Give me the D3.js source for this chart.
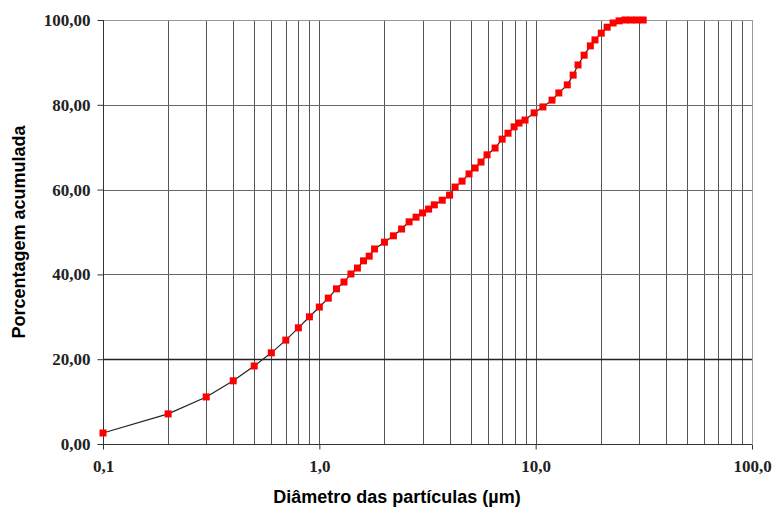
<!DOCTYPE html>
<html lang="pt">
<head>
<meta charset="UTF-8">
<title>Porcentagem acumulada</title>
<script src="https://cdn.jsdelivr.net/npm/d3@7"></script>
<style>
  body { margin: 0; background: #fff; }
  .tick-label { font-family: "Liberation Serif", "Times New Roman", serif; font-weight: bold; font-size: 17px; fill: #222; }
  .title { font-family: "Liberation Sans", Arial, sans-serif; font-weight: bold; font-size: 18px; fill: #000; }
</style>
</head>
<body>
<svg id="chart" width="777" height="509"></svg>
<script>
// particle diameter (um) and cumulative percentage
var diameters = [0.1, 0.2, 0.3, 0.4, 0.5, 0.6, 0.7, 0.8, 0.9, 1.0,
  1.1, 1.2, 1.3, 1.4, 1.5, 1.6, 1.7, 1.8, 2.0, 2.2,
  2.4, 2.6, 2.8, 3.0, 3.2, 3.4, 3.7, 4.0, 4.24, 4.57,
  4.92, 5.25, 5.59, 5.96, 6.49, 7.0, 7.45, 7.95, 8.38, 8.93,
  9.84, 10.8, 11.9, 12.8, 14.0, 14.9, 15.7, 16.75, 17.9, 18.8,
  20.1, 21.4, 22.8, 24.3, 25.9, 27.6, 29.4, 31.4];
var cumulative = [2.6, 7.1, 11.1, 14.9, 18.4, 21.5, 24.5, 27.4, 30.0, 32.3,
  34.4, 36.6, 38.2, 40.1, 41.5, 43.2, 44.3, 46.0, 47.6, 49.1,
  50.7, 52.4, 53.5, 54.5, 55.4, 56.4, 57.5, 58.7, 60.6, 62.0,
  63.7, 65.1, 66.5, 68.2, 69.8, 71.9, 73.3, 74.8, 75.7, 76.4,
  78.1, 79.5, 81.1, 82.8, 84.7, 87.0, 89.4, 91.7, 93.9, 95.3,
  96.9, 98.3, 99.3, 99.8, 100, 100, 100, 100];

var xTicks = [0.1, 1, 10, 100];
var xTickLabels = ["0,1", "1,0", "10,0", "100,0"];
var yTicks = [0, 20, 40, 60, 80, 100];
var yTickLabels = ["0,00", "20,00", "40,00", "60,00", "80,00", "100,00"];

var plotLeft = 103, plotRight = 752, plotTop = 20, plotBottom = 444;

var svg = d3.select("#chart");
var x = d3.scaleLog().domain([0.1, 100]).range([plotLeft, plotRight]);
var y = d3.scaleLinear().domain([0, 100]).range([plotBottom, plotTop]);

var data = diameters.map(function(d, i) { return { d: d, v: cumulative[i] }; });

// vertical grid, every 1-9 step of each decade
var grid = svg.append("g");
var vLines = x.ticks().filter(function(t) { return t > 0.1; });
grid.selectAll("line.v")
  .data(vLines)
  .enter().append("line")
    .attr("x1", function(d) { return Math.round(x(d)) + 0.5; })
    .attr("x2", function(d) { return Math.round(x(d)) + 0.5; })
    .attr("y1", plotTop)
    .attr("y2", plotBottom)
    .attr("stroke", function(d) { return d === 100 ? "#999" : "#555"; })
    .attr("stroke-width", 1);

// horizontal grid
grid.selectAll("line.h")
  .data(yTicks.filter(function(t) { return t > 0; }))
  .enter().append("line")
    .attr("x1", plotLeft)
    .attr("x2", plotRight)
    .attr("y1", function(d) { return Math.round(y(d)) + 0.5; })
    .attr("y2", function(d) { return Math.round(y(d)) + 0.5; })
    .attr("stroke", function(d) { return d === 20 ? "#222" : (d === 100 ? "#999" : "#666"); })
    .attr("stroke-width", function(d) { return d === 20 ? 1.3 : 1; });

// axes
var xAxis = svg.append("g")
  .attr("transform", "translate(0," + (plotBottom + 0.5) + ")")
  .call(d3.axisBottom(x).tickValues(xTicks).tickSize(5)
    .tickFormat(function(d, i) { return xTickLabels[i]; }));
xAxis.select(".domain").attr("stroke", "#333").attr("d", "M" + plotLeft + ",0H" + plotRight);
xAxis.selectAll(".tick line").attr("stroke", "#333");
xAxis.selectAll("text").attr("class", "tick-label").attr("y", 12).attr("dy", "0.9em");

var yAxis = svg.append("g")
  .attr("transform", "translate(" + (plotLeft + 0.5) + ",0)")
  .call(d3.axisLeft(y).tickValues(yTicks).tickSize(6)
    .tickFormat(function(d, i) { return yTickLabels[i]; }));
yAxis.select(".domain").attr("stroke", "#333").attr("d", "M0," + plotTop + "V" + plotBottom);
yAxis.selectAll(".tick line").attr("stroke", "#333");
yAxis.selectAll("text").attr("class", "tick-label").attr("x", -13).attr("dy", "0.32em");

// curve
svg.append("path")
  .datum(data)
  .attr("fill", "none")
  .attr("stroke", "#222")
  .attr("stroke-width", 1.2)
  .attr("d", d3.line()
    .x(function(d) { return x(d.d); })
    .y(function(d) { return y(d.v); }));

svg.append("g")
  .selectAll("rect")
  .data(data)
  .enter().append("rect")
    .attr("x", function(d) { return x(d.d) - 3.5; })
    .attr("y", function(d) { return y(d.v) - 3.5; })
    .attr("width", 7)
    .attr("height", 7)
    .attr("fill", "#ff0000");

// titles
svg.append("text")
  .attr("class", "title")
  .attr("x", 397)
  .attr("y", 503)
  .attr("text-anchor", "middle")
  .text("Diâmetro das partículas (µm)");

svg.append("text")
  .attr("class", "title")
  .attr("transform", "translate(25,232) rotate(-90)")
  .attr("text-anchor", "middle")
  .text("Porcentagem acumulada");
</script>
</body>
</html>
